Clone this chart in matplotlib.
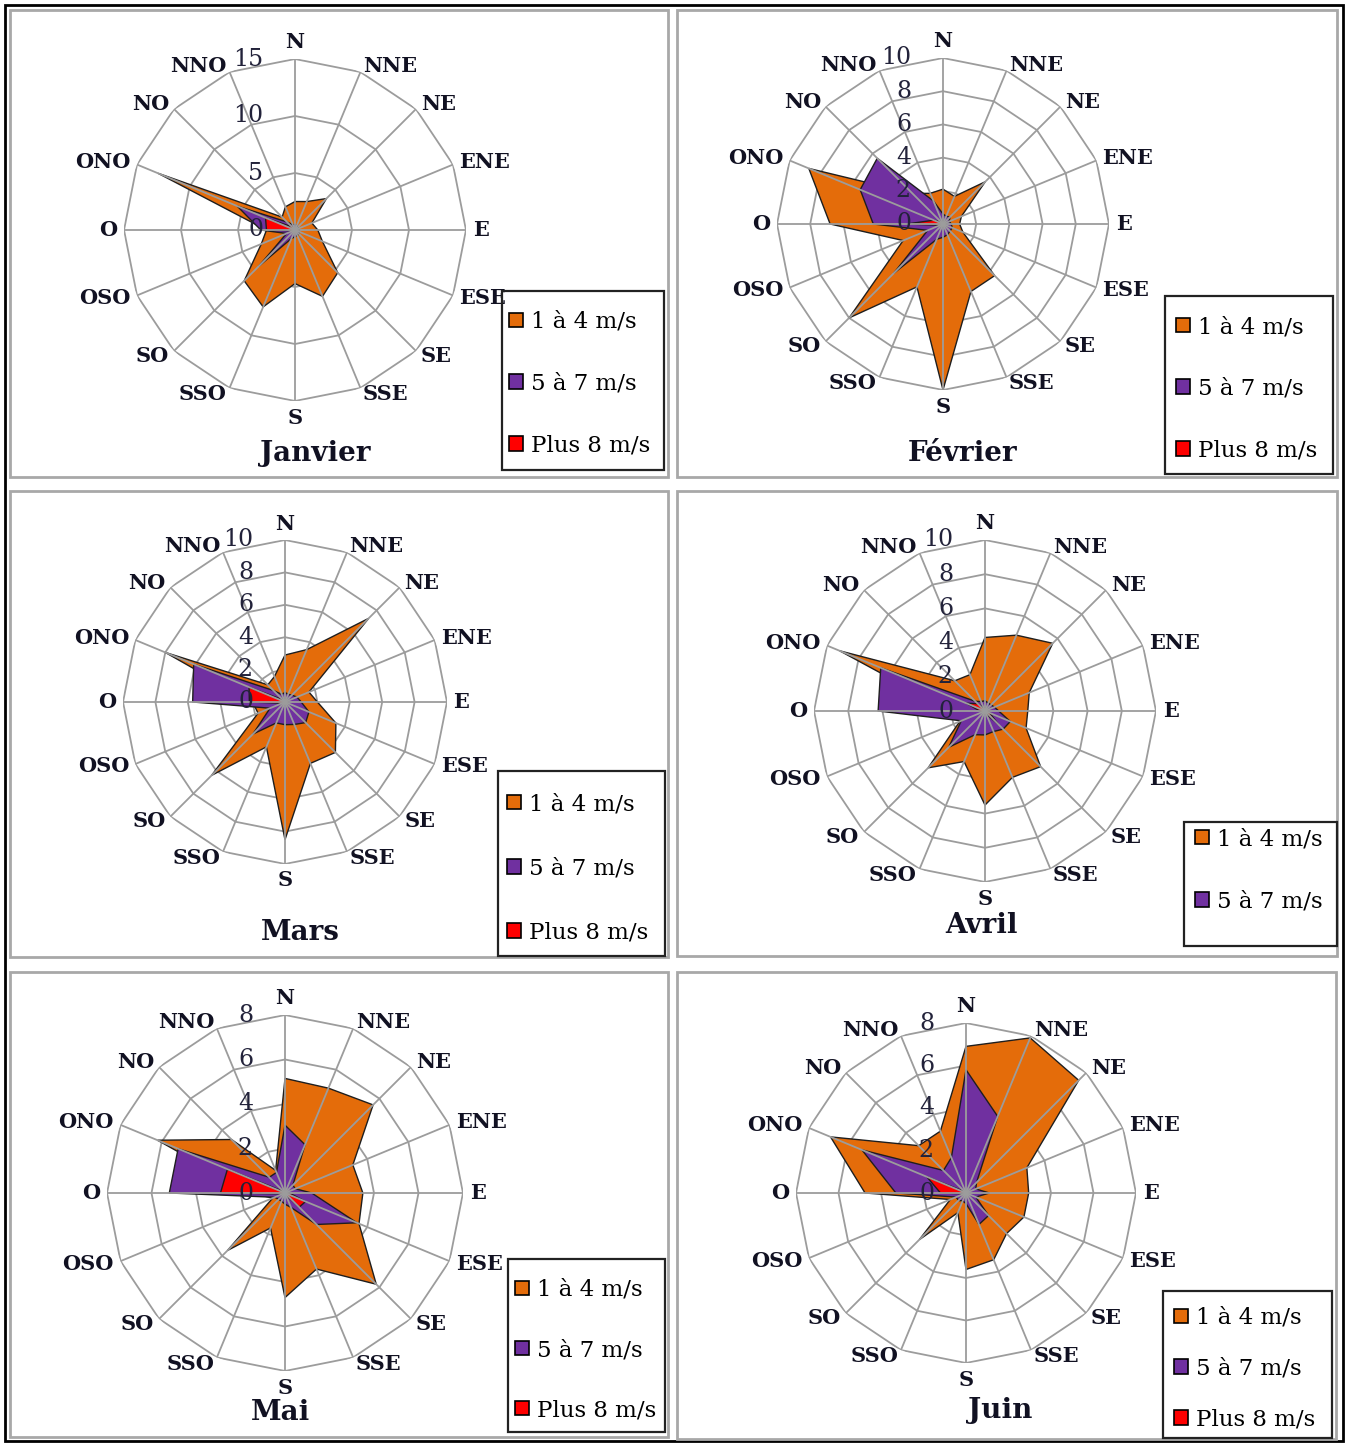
import matplotlib
matplotlib.use('Agg')
import matplotlib.pyplot as plt
import numpy as np
from matplotlib.patches import Rectangle, Patch

plt.rcParams['font.family'] = ['DejaVu Serif']

# Data
directions = ['N', 'NNE', 'NE', 'ENE', 'E', 'ESE', 'SE', 'SSE',
              'S', 'SSO', 'SO', 'OSO', 'O', 'ONO', 'NO', 'NNO']
months = ['Janvier', 'Février', 'Mars', 'Avril', 'Mai', 'Juin']
series_names = ['1 à 4 m/s', '5 à 7 m/s', 'Plus 8 m/s']

jan_1_4 = [2.5, 2.7, 3.9, 1.6, 2.0, 2.6, 5.3, 6.3, 4.7, 7.3, 6.3, 3.2, 2.5, 13.0, 1.6, 2.2]
jan_5_7 = [0.5, 0.4, 0.4, 0.3, 0.4, 0.4, 0.5, 0.5, 0.6, 0.8, 4.5, 0.8, 3.0, 5.5, 1.0, 0.5]
jan_8 = [0.2, 0.2, 0.2, 0.2, 0.2, 0.2, 0.2, 0.2, 0.2, 0.2, 0.2, 0.2, 2.5, 2.8, 0.4, 0.2]

feb_1_4 = [2.1, 1.8, 3.6, 1.2, 1.0, 1.3, 4.4, 4.4, 10.0, 4.1, 8.0, 2.6, 6.8, 8.75, 2.6, 2.0]
feb_5_7 = [0.6, 0.5, 0.6, 0.4, 0.5, 0.6, 0.6, 0.7, 0.8, 1.0, 4.2, 1.0, 4.2, 5.4, 5.6, 1.5]
feb_8 = [0.2, 0.2, 0.2, 0.2, 0.2, 0.2, 0.2, 0.2, 0.2, 0.2, 0.2, 0.2, 2.2, 0.6, 0.2, 0.2]

mar_1_4 = [2.9, 3.5, 7.3, 1.6, 2.0, 3.4, 4.4, 4.1, 8.5, 3.0, 6.4, 1.8, 2.0, 8.0, 1.5, 1.7]
mar_5_7 = [0.6, 0.5, 0.6, 0.8, 1.0, 1.6, 1.8, 1.5, 1.4, 1.4, 2.8, 1.0, 5.7, 6.1, 1.0, 0.5]
mar_8 = [0.2, 0.2, 0.2, 0.2, 0.2, 0.2, 0.2, 0.2, 0.2, 0.2, 0.2, 0.2, 2.2, 2.4, 0.2, 0.2]

apr_1_4 = [4.3, 4.8, 5.6, 2.8, 2.5, 2.6, 4.6, 4.2, 5.5, 3.2, 4.7, 1.6, 2.0, 9.2, 2.5, 2.3]
apr_5_7 = [0.6, 0.5, 0.5, 0.6, 0.8, 1.6, 1.5, 1.3, 1.4, 1.5, 3.0, 1.5, 6.25, 6.6, 0.8, 0.6]
apr_8 = [0.2, 0.2, 0.2, 0.2, 0.2, 0.3, 1.1, 0.2, 0.2, 0.2, 0.2, 0.2, 0.3, 1.2, 0.6, 0.2]

mai_1_4 = [5.15, 5.1, 5.6, 3.3, 3.5, 3.6, 5.8, 3.7, 4.7, 1.7, 3.65, 0.6, 1.5, 6.2, 3.4, 1.1]
mai_5_7 = [3.05, 2.35, 0.5, 0.5, 1.2, 3.5, 2.0, 0.7, 0.5, 0.4, 0.4, 0.5, 5.2, 5.2, 1.0, 1.0]
mai_8 = [0.1, 0.1, 0.1, 0.1, 0.2, 1.0, 0.9, 0.1, 0.1, 0.1, 0.1, 0.1, 2.9, 2.8, 0.1, 0.1]

jun_1_4 = [6.9, 7.9, 7.5, 3.1, 2.95, 2.95, 2.7, 3.4, 3.6, 1.0, 3.1, 0.8, 4.75, 6.9, 3.15, 3.15]
jun_5_7 = [5.8, 3.9, 0.7, 0.5, 1.1, 0.5, 1.5, 1.6, 0.5, 0.4, 0.5, 0.5, 3.3, 5.3, 1.5, 1.8]
jun_8 = [0.1, 0.1, 0.1, 0.1, 0.1, 0.1, 0.1, 0.1, 0.1, 0.1, 0.1, 0.1, 1.2, 2.0, 0.1, 0.1]

month_data = [
    (jan_1_4, jan_5_7, jan_8),
    (feb_1_4, feb_5_7, feb_8),
    (mar_1_4, mar_5_7, mar_8),
    (apr_1_4, apr_5_7, apr_8),
    (mai_1_4, mai_5_7, mai_8),
    (jun_1_4, jun_5_7, jun_8),
]
rings = [[0, 5, 10, 15], [0, 2, 4, 6, 8, 10], [0, 2, 4, 6, 8, 10],
         [0, 2, 4, 6, 8, 10], [0, 2, 4, 6, 8], [0, 2, 4, 6, 8]]
legend_count = [3, 3, 3, 2, 3, 3]

# Layout (pixels)
W, H = 1347, 1443
colors = ['#E46C0A', '#7030A0', '#FF0000']
grid_col = '#9c9c9c'
centers = [(295, 230, 171), (943, 224, 166), (285, 702, 162),
           (985, 711, 171), (285, 1193, 178), (966, 1193, 170)]
panels = [(10, 10, 668, 477), (677, 10, 1337, 477), (10, 491, 668, 957),
          (677, 491, 1337, 956), (10, 972, 668, 1437), (677, 972, 1336, 1439)]
titles_pos = [(315, 453), (963, 453), (300, 933), (981, 925), (281, 1413), (1000, 1410)]
leg_boxes = [(502, 291, 664, 470), (1165, 296, 1333, 474), (498, 771, 665, 956),
             (1184, 822, 1337, 946), (508, 1259, 665, 1432), (1163, 1291, 1332, 1438)]
leg_first = [(509, 321), (1176, 326), (507, 803), (1195, 838), (515, 1289), (1174, 1317)]
leg_spacing = [1.73, 1.73, 1.84, 1.77, 1.66, 1.25]
leg_fs = 16.5


def fx(x):
    return x / W


def fy(y):
    return 1 - y / H


fig = plt.figure(figsize=(W / 100, H / 100), dpi=100)

# outer frame and panel borders
fig.add_artist(Rectangle((fx(5), fy(1441)), fx(1343) - fx(5), fy(5) - fy(1441),
                         transform=fig.transFigure, fill=False, ec='black', lw=2))
for (x0, y0, x1, y1) in panels:
    fig.add_artist(Rectangle((fx(x0), fy(y1)), fx(x1) - fx(x0), fy(y0) - fy(y1),
                             transform=fig.transFigure, fill=False, ec='#a8a8a8', lw=2))

theta = np.linspace(0, 2 * np.pi, len(directions), endpoint=False)
theta_c = np.append(theta, theta[0])

for i, month in enumerate(months):
    cx, cy, R = centers[i]
    rmax = rings[i][-1]
    ax = fig.add_axes([fx(cx - R), fy(cy + R), 2 * R / W, 2 * R / H], projection='polar')
    ax.set_theta_zero_location('N')
    ax.set_theta_direction(-1)
    ax.set_ylim(0, rmax)
    ax.set_xticks([])
    ax.set_yticks([])
    ax.grid(False)
    ax.spines['polar'].set_visible(False)
    ax.patch.set_visible(False)

    # polygon rings
    for v in rings[i][1:]:
        ax.plot(theta_c, [v] * len(theta_c), color=grid_col, lw=1.3, zorder=1)

    # series
    for k, vals in enumerate(month_data[i]):
        vc = list(vals) + [vals[0]]
        ax.fill(theta_c, vc, facecolor=colors[k], edgecolor='#1e1e1e', lw=1.0, zorder=2 + k * 0.1)

    # spokes
    for t in theta:
        ax.plot([t, t], [0, rmax], color=grid_col, lw=1.3, zorder=4)

    # direction labels
    for t, name in zip(theta, directions):
        s = np.sin(t)
        if abs(s) < 0.01:
            ha = 'center'
            va = 'bottom' if np.cos(t) > 0 else 'top'
        else:
            ha = 'left' if s > 0 else 'right'
            va = 'center'
        ax.text(t, rmax * 1.04, name, ha=ha, va=va, fontsize=15, fontweight='bold',
                color='#111122', clip_on=False)

    # value labels
    for v in rings[i]:
        ax.annotate(str(v), xy=(0, v), xytext=(-23, 0), textcoords='offset points',
                    ha='right', va='center', fontsize=17, color='#22223a', zorder=6)

    # title
    tx, ty = titles_pos[i]
    fig.text(fx(tx), fy(ty), month, ha='center', va='center', fontsize=20,
             fontweight='bold', color='#111122')

    # legend
    x0, y0, x1, y1 = leg_boxes[i]
    fig.add_artist(Rectangle((fx(x0), fy(y1)), fx(x1) - fx(x0), fy(y0) - fy(y1),
                             transform=fig.transFigure, fill=False, ec='#222222', lw=1.6))
    n = legend_count[i]
    handles = [Patch(facecolor=colors[k], edgecolor='black', lw=1.2) for k in range(n)]
    lx, ly = leg_first[i]
    fig.legend(handles, series_names[:n], loc='upper left',
               bbox_to_anchor=(fx(lx), fy(ly - 10)), frameon=False, borderpad=0,
               borderaxespad=0, handlelength=0.62, handleheight=0.62, handletextpad=0.35,
               labelspacing=leg_spacing[i], fontsize=leg_fs)

fig.savefig('out.png', dpi=100)
